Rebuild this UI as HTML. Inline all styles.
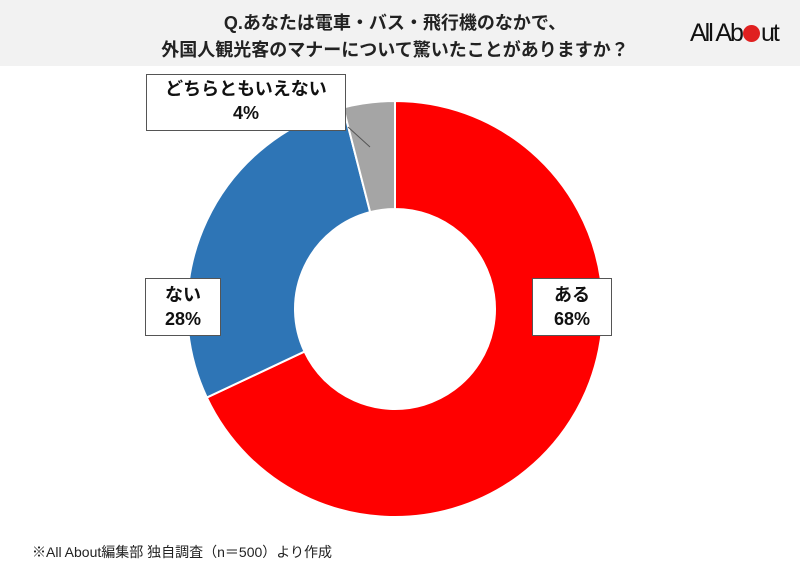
<!DOCTYPE html>
<html><head><meta charset="utf-8"><style>
body{margin:0;width:800px;height:575px;background:#fff;font-family:"Liberation Sans","Noto Sans CJK JP",sans-serif;overflow:hidden;position:relative}
.hdr{position:absolute;left:0;top:0;width:800px;height:66px;background:#f2f2f2}
.t{position:absolute;left:0;width:790px;text-align:center;font-weight:bold;font-size:18px;color:#222}
.lbl{position:absolute;background:#fff;border:1px solid #555;text-align:center;font-weight:bold;font-size:18px;line-height:24px;color:#111;box-sizing:border-box;padding-top:4px}
.foot{position:absolute;left:32px;top:542px;font-size:14px;color:#222}
</style></head><body>
<div class="hdr"></div>
<div class="t" style="top:9px">Q.あなたは電車・バス・飛行機のなかで、</div>
<div class="t" style="top:36px">外国人観光客のマナーについて驚いたことがありますか？</div>
<div style="position:absolute;left:690px;top:19px;font-size:25px;letter-spacing:-2px;color:#111">All Ab<span style="display:inline-block;width:17px;height:17px;border-radius:50%;background:#e02020;vertical-align:-1px;margin:0 1px"></span>ut</div>
<svg id="chart" width="800" height="575" style="position:absolute;left:0;top:0"></svg>
<div class="lbl" style="left:532px;top:278px;width:80px;height:58px">ある<br>68%</div>
<div class="lbl" style="left:145px;top:278px;width:76px;height:58px">ない<br>28%</div>
<div class="lbl" style="left:146px;top:74px;width:200px;height:57px;padding-top:2px">どちらともいえない<br>4%</div>
<div class="foot">※All About編集部 独自調査（n＝500）より作成</div>
<script>
const categories=["ある","ない","どちらともいえない"];
const values=[68,28,4];
const colors=["#ff0000","#2e75b6","#a5a5a5"];
const svg=document.getElementById('chart');
const cx=395,cy=309,R=208,r=100;
const total=values.reduce((a,b)=>a+b,0);
function pt(a,rad){return [cx+rad*Math.sin(a),cy-rad*Math.cos(a)];}
let a0=0;
values.forEach((v,i)=>{
  const a1=a0+v/total*2*Math.PI;
  const [x1,y1]=pt(a0,R),[x2,y2]=pt(a1,R),[x3,y3]=pt(a1,r),[x4,y4]=pt(a0,r);
  const large=(a1-a0)>Math.PI?1:0;
  const p=document.createElementNS('http://www.w3.org/2000/svg','path');
  p.setAttribute('d',`M${x1},${y1}A${R},${R} 0 ${large} 1 ${x2},${y2}L${x3},${y3}A${r},${r} 0 ${large} 0 ${x4},${y4}Z`);
  p.setAttribute('fill',colors[i]);
  p.setAttribute('stroke','#fff');
  p.setAttribute('stroke-width','2');
  
  
  svg.appendChild(p);
  a0=a1;
});
const ln=document.createElementNS('http://www.w3.org/2000/svg','line');
ln.setAttribute('x1','348');ln.setAttribute('y1','127');ln.setAttribute('x2','370');ln.setAttribute('y2','147');
ln.setAttribute('stroke','#555');ln.setAttribute('stroke-width','1');


svg.appendChild(ln);
</script>
</body></html>
